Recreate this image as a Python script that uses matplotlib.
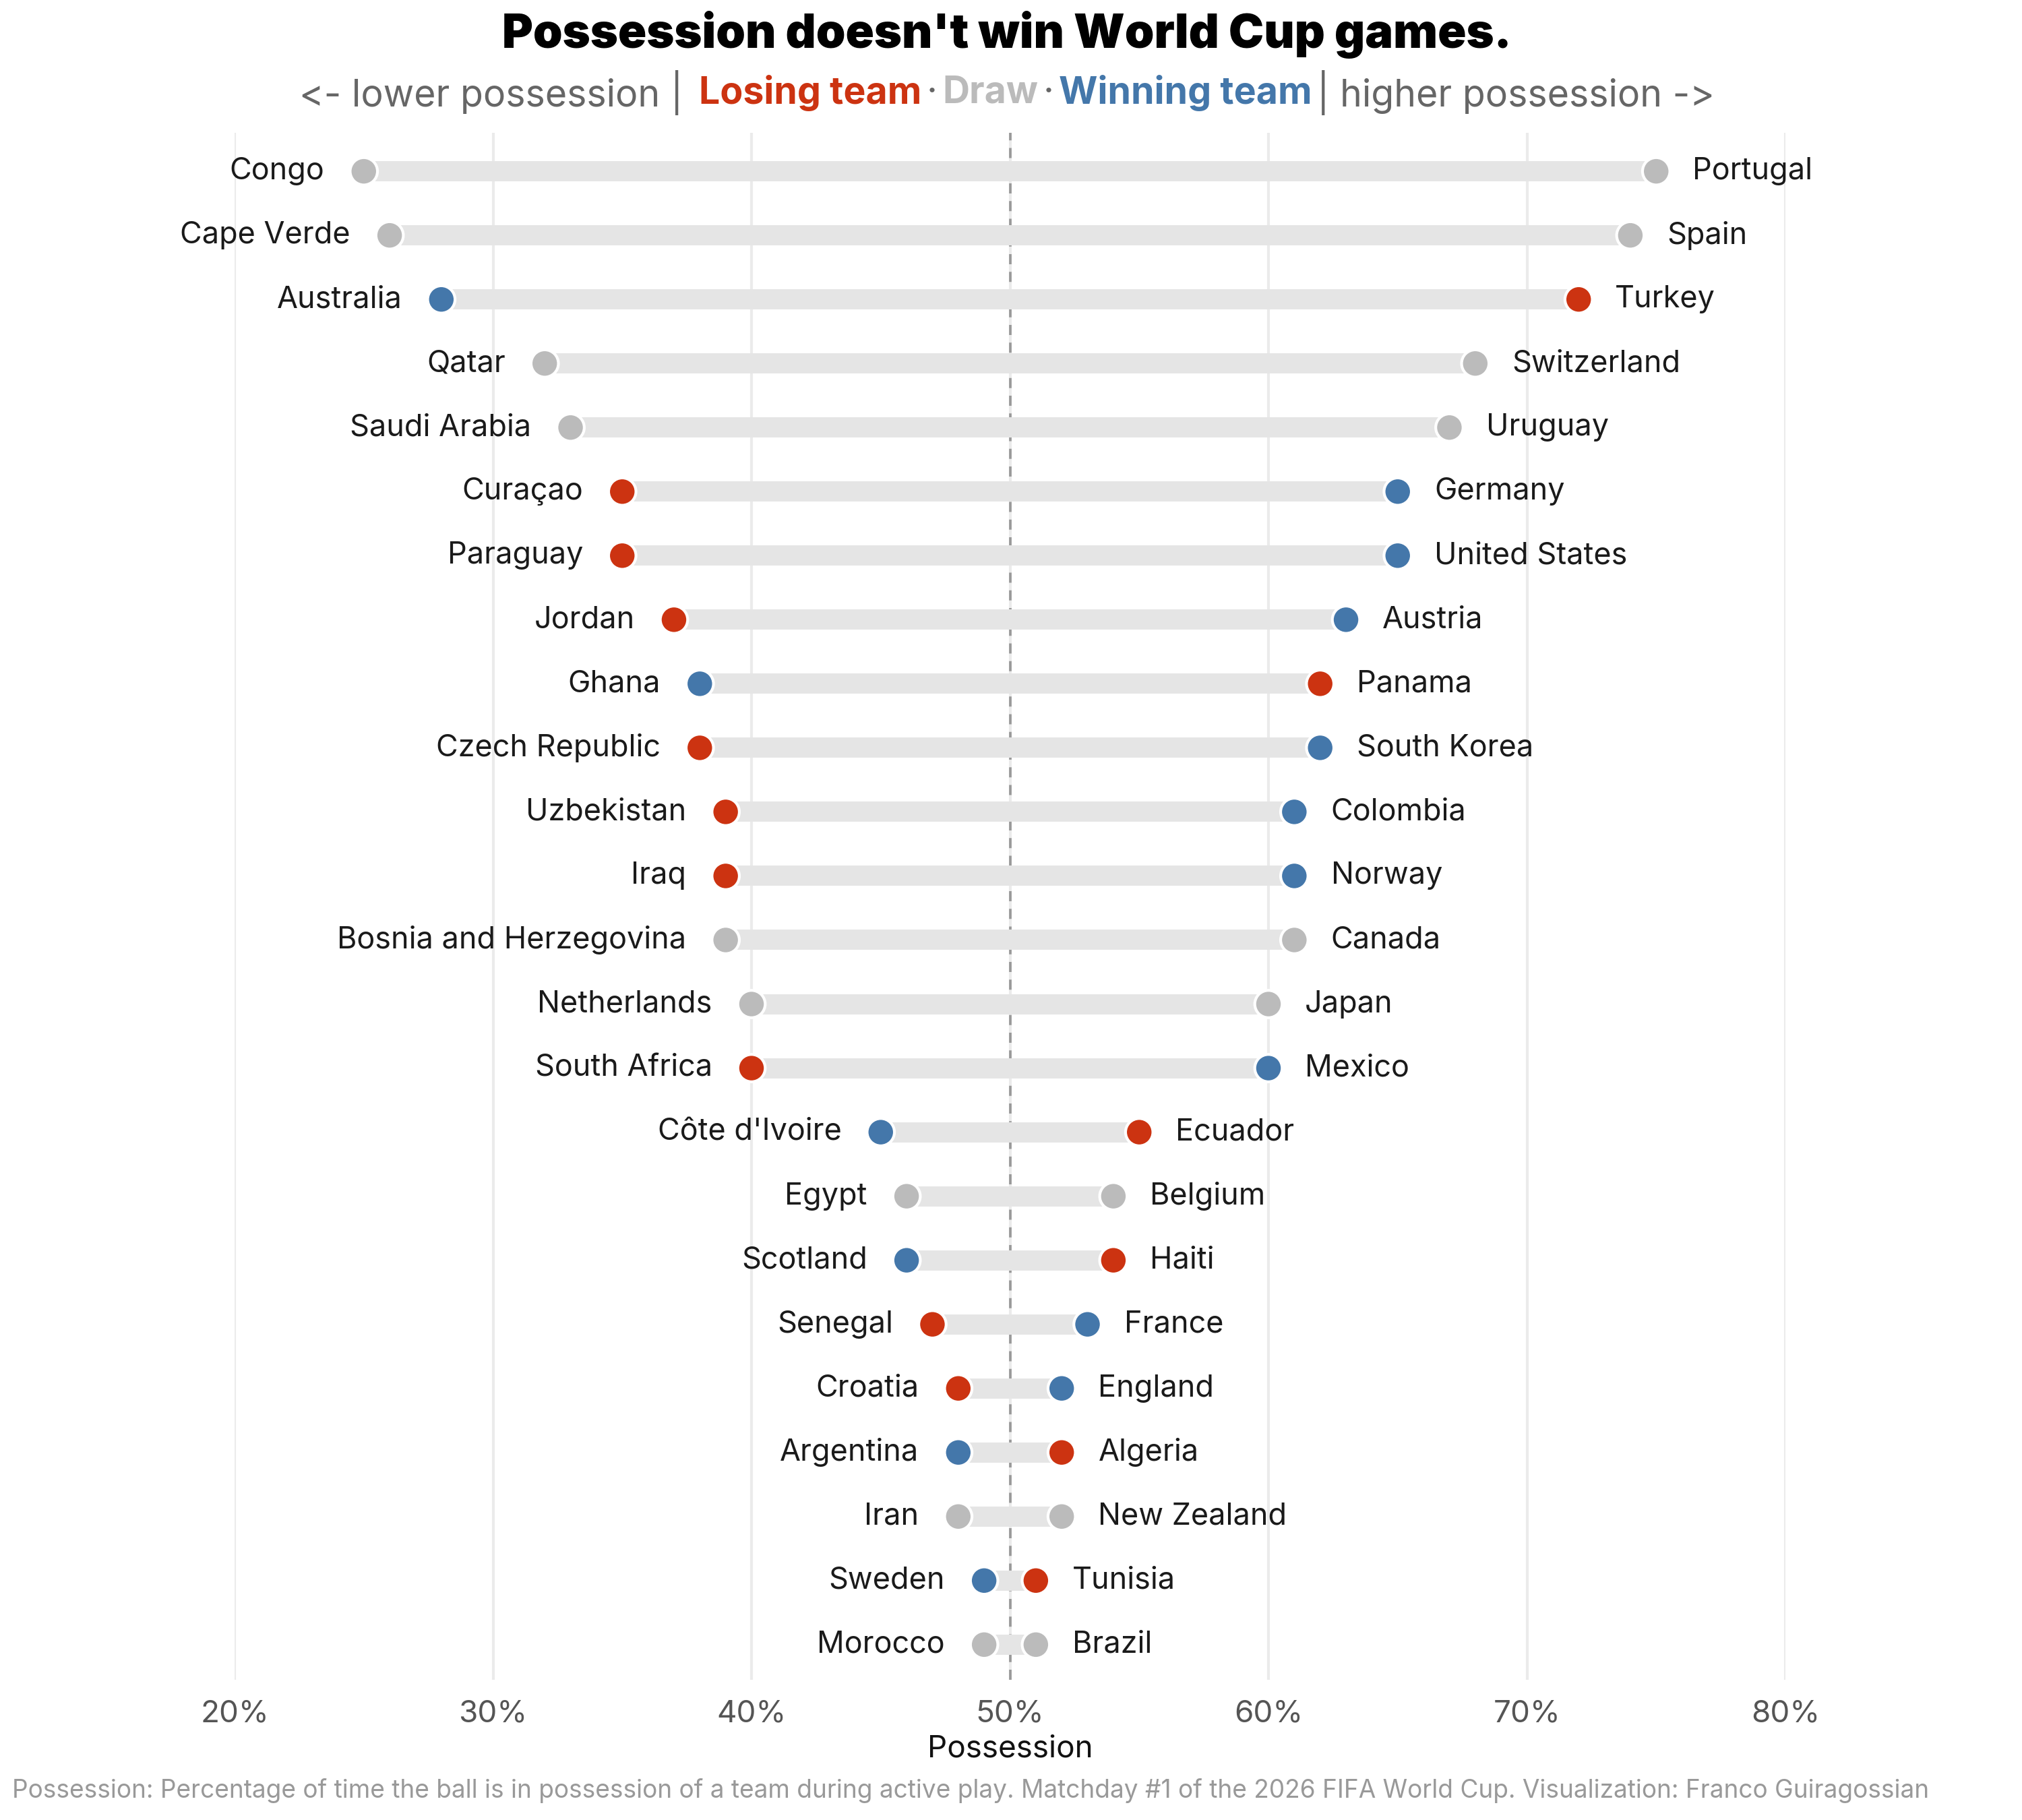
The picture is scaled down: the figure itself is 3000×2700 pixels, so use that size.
import matplotlib

matplotlib.use("Agg")
import matplotlib.pyplot as plt
from matplotlib.ticker import FuncFormatter

plt.rcParams["font.family"] = ["Inter", "DejaVu Sans"]

# --------------------------------------------------------------------------- #
# Data (top row first)
# --------------------------------------------------------------------------- #
low_teams = ["Congo", "Cape Verde", "Australia", "Qatar", "Saudi Arabia", "Curaçao",
             "Paraguay", "Jordan", "Ghana", "Czech Republic", "Uzbekistan", "Iraq",
             "Bosnia and Herzegovina", "Netherlands", "South Africa", "Côte d'Ivoire",
             "Egypt", "Scotland", "Senegal", "Croatia", "Argentina", "Iran", "Sweden",
             "Morocco"]
high_teams = ["Portugal", "Spain", "Turkey", "Switzerland", "Uruguay", "Germany",
              "United States", "Austria", "Panama", "South Korea", "Colombia", "Norway",
              "Canada", "Japan", "Mexico", "Ecuador", "Belgium", "Haiti", "France",
              "England", "Algeria", "New Zealand", "Tunisia", "Brazil"]
low_poss = [25, 26, 28, 32, 33, 35, 35, 37, 38, 38, 39, 39, 39, 40, 40, 45, 46, 46,
            47, 48, 48, 48, 49, 49]
high_poss = [75, 74, 72, 68, 67, 65, 65, 63, 62, 62, 61, 61, 61, 60, 60, 55, 54, 54,
             53, 52, 52, 52, 51, 51]
# W = win, L = loss, D = draw
low_result = ["D", "D", "W", "D", "D", "L", "L", "L", "W", "L", "L", "L", "D", "D",
              "L", "W", "D", "W", "L", "L", "W", "D", "W", "D"]
high_result = ["D", "D", "L", "D", "D", "W", "W", "W", "L", "W", "W", "W", "D", "D",
               "W", "L", "D", "L", "W", "W", "L", "D", "L", "D"]

x_ticks = [20, 30, 40, 50, 60, 70, 80]

RED = "#CC3311"
BLUE = "#4477AA"
GREY = "#BBBBBB"
RESULT_COLORS = {"L": RED, "D": GREY, "W": BLUE}

fig = plt.figure(figsize=(10, 9), dpi=300)
ax = fig.add_axes([0.116, 0.077, 0.767, 0.85])

rows = list(range(len(low_teams)))

# grid + 50% reference
for t in x_ticks:
    ax.axvline(t, color="#EBEBEB", lw=1.0, zorder=0)
ax.axvline(50, color="#999999", lw=0.9, ls=(0, (4, 3)), zorder=1)

# connecting bars
for y, lo, hi in zip(rows, low_poss, high_poss):
    ax.plot([lo, hi], [y, y], color="#E5E5E5", lw=7.2, solid_capstyle="butt", zorder=2)

ax.scatter(low_poss, rows, s=95, c=[RESULT_COLORS[r] for r in low_result],
           edgecolors="white", linewidths=1.0, zorder=3)
ax.scatter(high_poss, rows, s=95, c=[RESULT_COLORS[r] for r in high_result],
           edgecolors="white", linewidths=1.0, zorder=3)

for y, lo, hi, lt, ht in zip(rows, low_poss, high_poss, low_teams, high_teams):
    ax.annotate(lt, (lo, y), xytext=(-14, 0), textcoords="offset points",
                ha="right", va="center", fontsize=10.8, color="#1a1a1a")
    ax.annotate(ht, (hi, y), xytext=(13, 0), textcoords="offset points",
                ha="left", va="center", fontsize=10.8, color="#1a1a1a")

ax.set_xlim(20, 80)
ax.set_ylim(len(rows) - 1 + 0.55, -0.6)
ax.set_xticks(x_ticks)
ax.xaxis.set_major_formatter(FuncFormatter(lambda v, _: f"{v:.0f}%"))
ax.tick_params(axis="x", length=0, pad=7, labelsize=11, labelcolor="#555555")
ax.set_yticks([])
for s in ax.spines.values():
    s.set_visible(False)
ax.set_xlabel("Possession", fontsize=11, color="#111111", labelpad=2.5)

# titles
fig.text(0.498, 0.981, "Possession doesn't win World Cup games.", ha="center",
         va="center", fontsize=16.8, fontweight="black", color="#000000")

pieces = [
    ("<- lower possession | ", "#666666", "normal"),
    ("Losing team", RED, "bold"),
    ("·", "#666666", "normal"),
    ("Draw", GREY, "bold"),
    ("·", "#666666", "normal"),
    ("Winning team", BLUE, "bold"),
    ("| higher possession ->", "#666666", "normal"),
]
renderer = fig.canvas.get_renderer()
texts = [fig.text(0, 0.949, s, color=c, fontweight=w, fontsize=13.3, va="center")
         for s, c, w in pieces]
widths = [t.get_window_extent(renderer).width / fig.bbox.width for t in texts]
gap = 0.0025
x = 0.498 - (sum(widths) + gap * (len(widths) - 1)) / 2
for t, w in zip(texts, widths):
    t.set_x(x)
    x += w + gap

fig.text(0.006, 0.016,
         "Possession: Percentage of time the ball is in possession of a team during "
         "active play. Matchday #1 of the 2026 FIFA World Cup. Visualization: Franco "
         "Guiragossian", ha="left", va="center", fontsize=8.9, color="#999999")

fig.savefig("out.png", dpi=300, facecolor="white")
